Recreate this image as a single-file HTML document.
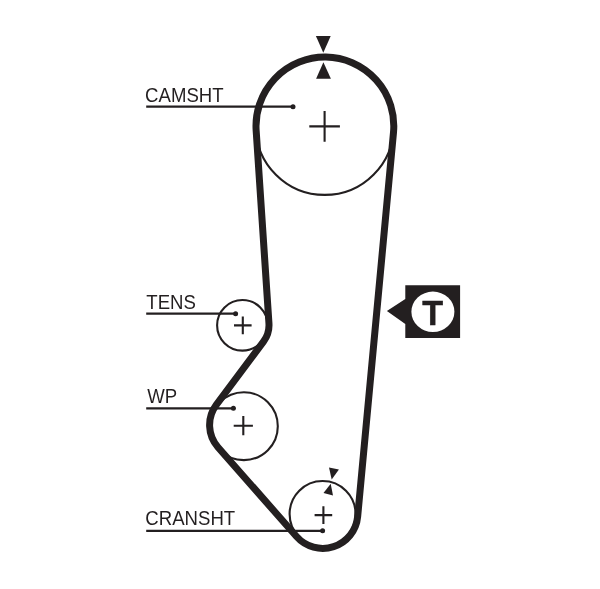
<!DOCTYPE html>
<html><head><meta charset="utf-8"><title>Timing belt diagram</title>
<style>
html,body{margin:0;padding:0;background:#fff;}
body{width:600px;height:589px;overflow:hidden;}
svg{display:block;will-change:transform;}
.lb{font-family:"Liberation Sans",Arial,sans-serif;font-size:18.6px;fill:#231f20;}
.tt{font-family:"Liberation Sans",Arial,sans-serif;font-size:35.8px;font-weight:bold;fill:#231f20;stroke:#231f20;stroke-width:0.5px;text-anchor:middle;}
</style></head><body>
<svg width="600" height="589" viewBox="0 0 600 589">
<rect width="600" height="589" fill="#fff"/>
<!-- pulleys -->
<circle cx="324.7" cy="125.9" r="69" fill="none" stroke="#231f20" stroke-width="2.1"/>
<circle cx="242.4" cy="325.3" r="25.3" fill="none" stroke="#231f20" stroke-width="2.1"/>
<circle cx="243.9" cy="426.2" r="33.9" fill="none" stroke="#231f20" stroke-width="2.1"/>
<circle cx="322.6" cy="514" r="33" fill="none" stroke="#231f20" stroke-width="2.1"/>
<!-- belt -->
<path d="M256.15 130.56 L268.94 323.16 A27.80 27.80 0 0 1 263.48 341.62 L216.27 404.91 A33.60 33.60 0 0 0 217.97 447.19 L296.52 536.51 A35.00 35.00 0 0 0 357.65 516.65 L393.50 132.40 A68.90 68.90 0 1 0 256.15 130.56 Z" fill="none" stroke="#231f20" stroke-width="7.0" stroke-linejoin="round"/>
<!-- crosses -->
<path d="M309.3 126.4H339.9M324.6 111.1V141.7" stroke="#231f20" stroke-width="2.1" fill="none"/>
<path d="M234.0 325.4H251.6M242.8 316.6V334.2" stroke="#231f20" stroke-width="2.1" fill="none"/>
<path d="M233.7 425.7H252.9M243.3 416.1V435.3" stroke="#231f20" stroke-width="2.1" fill="none"/>
<path d="M314.6 515.1H332.2M323.4 506.3V523.9" stroke="#231f20" stroke-width="2.1" fill="none"/>
<!-- labels -->
<text class="lb" transform="translate(145.1 101.8) scale(1 1.055)">CAMSHT</text><path d="M146.2 106.7H293" stroke="#231f20" stroke-width="2.3" fill="none"/><circle cx="293" cy="106.7" r="2.5" fill="#231f20"/>
<text class="lb" transform="translate(146.3 309.3) scale(1 1.055)">TENS</text><path d="M146.2 313.7H235.6" stroke="#231f20" stroke-width="2.3" fill="none"/><circle cx="235.6" cy="313.7" r="2.5" fill="#231f20"/>
<text class="lb" transform="translate(147.3 403.2) scale(1 1.055)">WP</text><path d="M146.2 408.3H233.4" stroke="#231f20" stroke-width="2.3" fill="none"/><circle cx="233.4" cy="408.3" r="2.5" fill="#231f20"/>
<text class="lb" transform="translate(145.3 525.3) scale(1 1.055)">CRANSHT</text><path d="M146.2 530.8H322.6" stroke="#231f20" stroke-width="2.3" fill="none"/><circle cx="322.6" cy="530.8" r="2.5" fill="#231f20"/>
<!-- timing marks -->
<path d="M315.9 36H330.7L323.3 52.8Z" fill="#231f20"/>
<path d="M316.1 78.8H330.9L323.4 62.2Z" fill="#231f20"/>
<path d="M329 467.4L338.9 469.6L331.7 479.6Z" fill="#231f20"/>
<path d="M330.7 483.7L323.5 493.1L333 495.5Z" fill="#231f20"/>
<!-- T marker -->
<path d="M405.3 285.3H460.1V337.9H405.3V324L386.9 310.9L405.3 298.9Z" fill="#231f20"/>
<ellipse cx="432.9" cy="311.8" rx="21.5" ry="20.2" fill="#fff"/>
<text x="0" y="0" class="tt" transform="translate(432.7 325.1) scale(0.955 1)">T</text>
</svg>
</body></html>
